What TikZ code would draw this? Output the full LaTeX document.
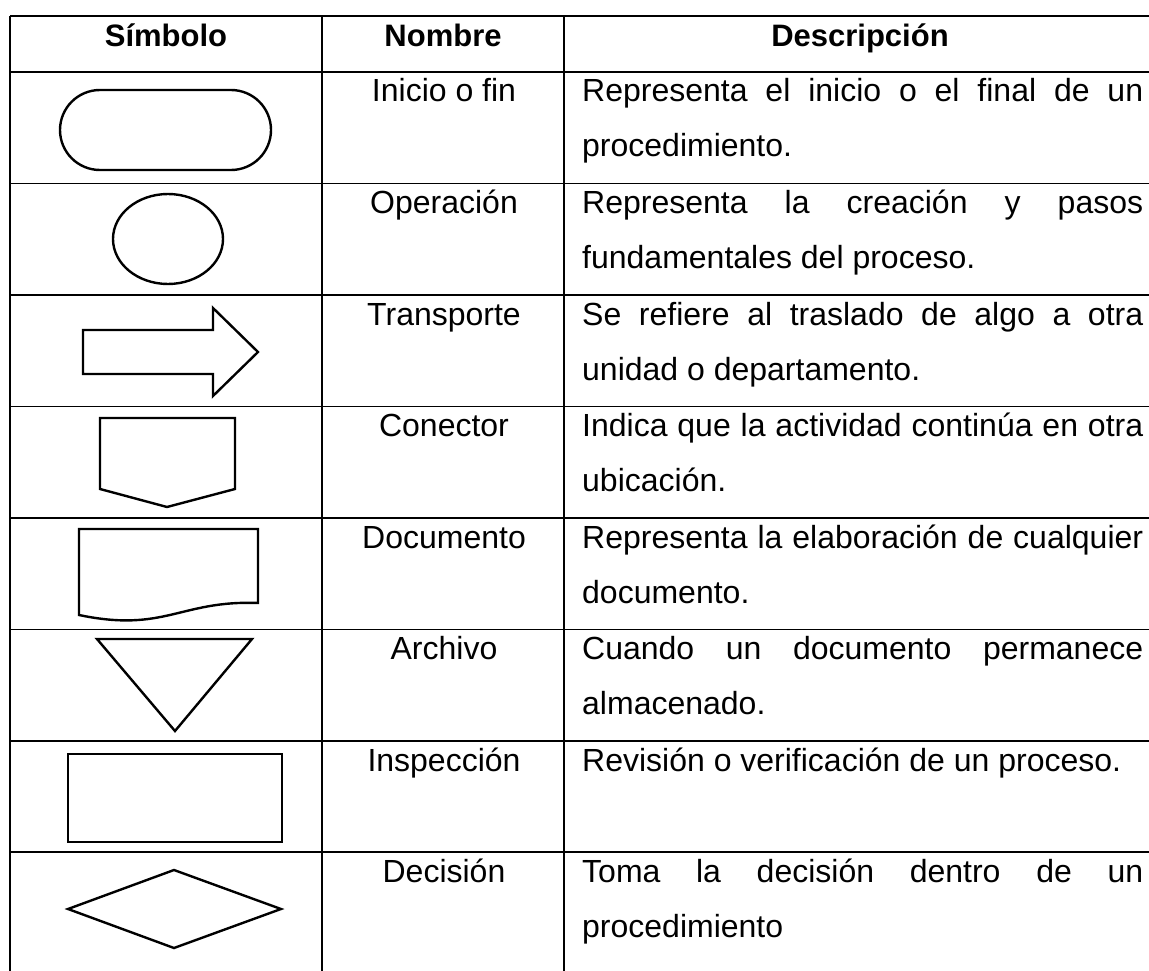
\documentclass[tikz,border=0pt]{standalone}
\usepackage{fontspec}
\setmainfont{Liberation Sans}
\newcommand{\fullline}[1]{\makebox[561pt][s]{#1}}
\begin{document}
\begin{tikzpicture}[x=1pt, y=-1pt,
    grid/.style={line width=1.4pt},
    sym/.style={line width=2.4pt, line join=miter},
    every node/.style={inner sep=0pt, font=\fontsize{32}{38}\selectfont},
    headcell/.style={anchor=base, font=\fontsize{31}{37}\selectfont\bfseries},
    namecell/.style={anchor=base},
    desccell/.style={anchor=base west}]
    \useasboundingbox (0,0) rectangle (1149,971);

    % Table grid
    \foreach \y in {16,72,183.5,295,406.5,518,629.5,741,852}
        \draw[grid] (10,\y) -- (1149,\y);
    \foreach \x in {10,322,564}
        \draw[grid] (\x,16) -- (\x,971);

    % Header
    \node[headcell] (hsym) at (166,47) {Símbolo};
    \node[headcell] (hname) at (443,47) {Nombre};
    \node[headcell] (hdesc) at (860,47) {Descripción};

    % Inicio o fin
    \draw[sym, rounded corners=40pt] (60,90) rectangle (271,170);
    \node[namecell] (n1) at (444,102) {Inicio o fin};
    \node[desccell] (d1a) at (582,102) {\fullline{Representa el inicio o el final de un}};
    \node[desccell] (d1b) at (582,157) {procedimiento.};

    % Operacion
    \draw[sym] (168,239) ellipse [x radius=55pt, y radius=45pt];
    \node[namecell] (n2) at (444,213.5) {Operación};
    \node[desccell] (d2a) at (582,213.5) {\fullline{Representa la creación y pasos}};
    \node[desccell] (d2b) at (582,268.5) {fundamentales del proceso.};

    % Transporte
    \draw[sym] (83,330) -- (213,330) -- (213,308) -- (258,352) -- (213,396)
        -- (213,374) -- (83,374) -- cycle;
    \node[namecell] (n3) at (444,325) {Transporte};
    \node[desccell] (d3a) at (582,325) {\fullline{Se refiere al traslado de algo a otra}};
    \node[desccell] (d3b) at (582,380) {unidad o departamento.};

    % Conector
    \draw[sym] (100,418) -- (235,418) -- (235,489) -- (167,507) -- (100,489) -- cycle;
    \node[namecell] (n4) at (444,436.5) {Conector};
    \node[desccell] (d4a) at (582,436.5) {\fullline{Indica que la actividad continúa en otra}};
    \node[desccell] (d4b) at (582,491.5) {ubicación.};

    % Documento
    \draw[sym] (79,615) -- (79,529) -- (258,529) -- (258,603)
        .. controls (180,600) and (165,633) .. (79,615) -- cycle;
    \node[namecell] (n5) at (444,548) {Documento};
    \node[desccell] (d5a) at (582,548) {\fullline{Representa la elaboración de cualquier}};
    \node[desccell] (d5b) at (582,603) {documento.};

    % Archivo
    \draw[sym] (97,639) -- (252,639) -- (175,731) -- cycle;
    \node[namecell] (n6) at (444,659.5) {Archivo};
    \node[desccell] (d6a) at (582,659.5) {\fullline{Cuando un documento permanece}};
    \node[desccell] (d6b) at (582,714.5) {almacenado.};

    % Inspeccion
    \draw[sym] (68,754) rectangle (282,842);
    \node[namecell] (n7) at (444,771) {Inspección};
    \node[desccell] (d7a) at (582,771) {Revisión o verificación de un proceso.};

    % Decision
    \draw[sym] (68,909) -- (174,870) -- (281,909) -- (174,948) -- cycle;
    \node[namecell] (n8) at (444,882) {Decisión};
    \node[desccell] (d8a) at (582,882) {\fullline{Toma la decisión dentro de un}};
    \node[desccell] (d8b) at (582,937) {procedimiento};
\end{tikzpicture}
\end{document}
